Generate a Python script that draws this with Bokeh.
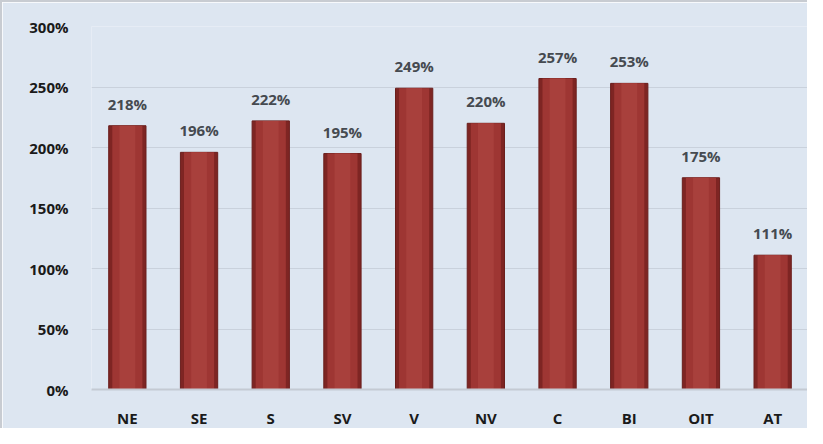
from bokeh.plotting import figure
from bokeh.models import ColumnDataSource, FixedTicker, Range1d, CustomJSTickFormatter
from bokeh.embed import file_html
from bokeh.resources import INLINE
from bokeh.core.properties import value

categories = ["NE", "SE", "S", "SV", "V", "NV", "C", "BI", "OIT", "AT"]
values = [218, 196, 222, 195, 249, 220, 257, 253, 175, 111]
labels = [f"{v}%" for v in values]
y_ticks = [0, 50, 100, 150, 200, 250, 300]

src = ColumnDataSource(dict(cat=categories, val=values, lab=labels))

bg = "#dde6f1"
p = figure(x_range=categories, y_range=Range1d(0, 300), width=807, height=428,
           output_backend="svg", toolbar_location=None,
           background_fill_color=bg, border_fill_color=bg,
           min_border_left=89, min_border_right=1, min_border_top=24, min_border_bottom=40)
p.outline_line_color = None
p.styles = {"border-left": "2px solid #c8ccd2", "border-top": "2px solid #c8ccd2"}

p.vbar(x="cat", top="val", width=0.52, source=src, fill_color="#7e2523", line_color="#6a1e1c", line_width=1)
p.vbar(x="cat", top="val", width=0.42, source=src, fill_color="#9e3633", line_color=None)
p.vbar(x="cat", top="val", width=0.22, source=src, fill_color="#a8403c", line_color=None)

p.text(x="cat", y="val", text="lab", source=src, text_align="center", text_baseline="bottom",
       y_offset=-12, text_font=value("Open Sans"), text_font_style="bold",
       text_font_size="15px", text_color="#454a50")

p.yaxis.ticker = FixedTicker(ticks=y_ticks)
p.yaxis.formatter = CustomJSTickFormatter(code="return tick + '%';")
p.yaxis.axis_line_color = None
p.yaxis.major_tick_line_color = None
p.yaxis.minor_tick_line_color = None
p.yaxis.major_label_text_font = "Open Sans"
p.yaxis.major_label_text_font_style = "bold"
p.yaxis.major_label_text_font_size = "15px"
p.yaxis.major_label_text_color = "#1a1a1a"
p.yaxis.major_label_standoff = 17

p.xaxis.axis_line_color = "#c4cad3"
p.xaxis.axis_line_width = 2
p.xaxis.major_tick_line_color = None
p.xaxis.minor_tick_line_color = None
p.xaxis.major_label_text_font = "Open Sans"
p.xaxis.major_label_text_font_style = "bold"
p.xaxis.major_label_text_font_size = "15px"
p.xaxis.major_label_text_color = "#1a1a1a"
p.xaxis.major_label_standoff = 12

p.xgrid.grid_line_color = None
p.ygrid.grid_line_color = "#c9d1dc"
p.ygrid.grid_line_width = 1

open("out.html", "w").write(file_html(p, INLINE))
